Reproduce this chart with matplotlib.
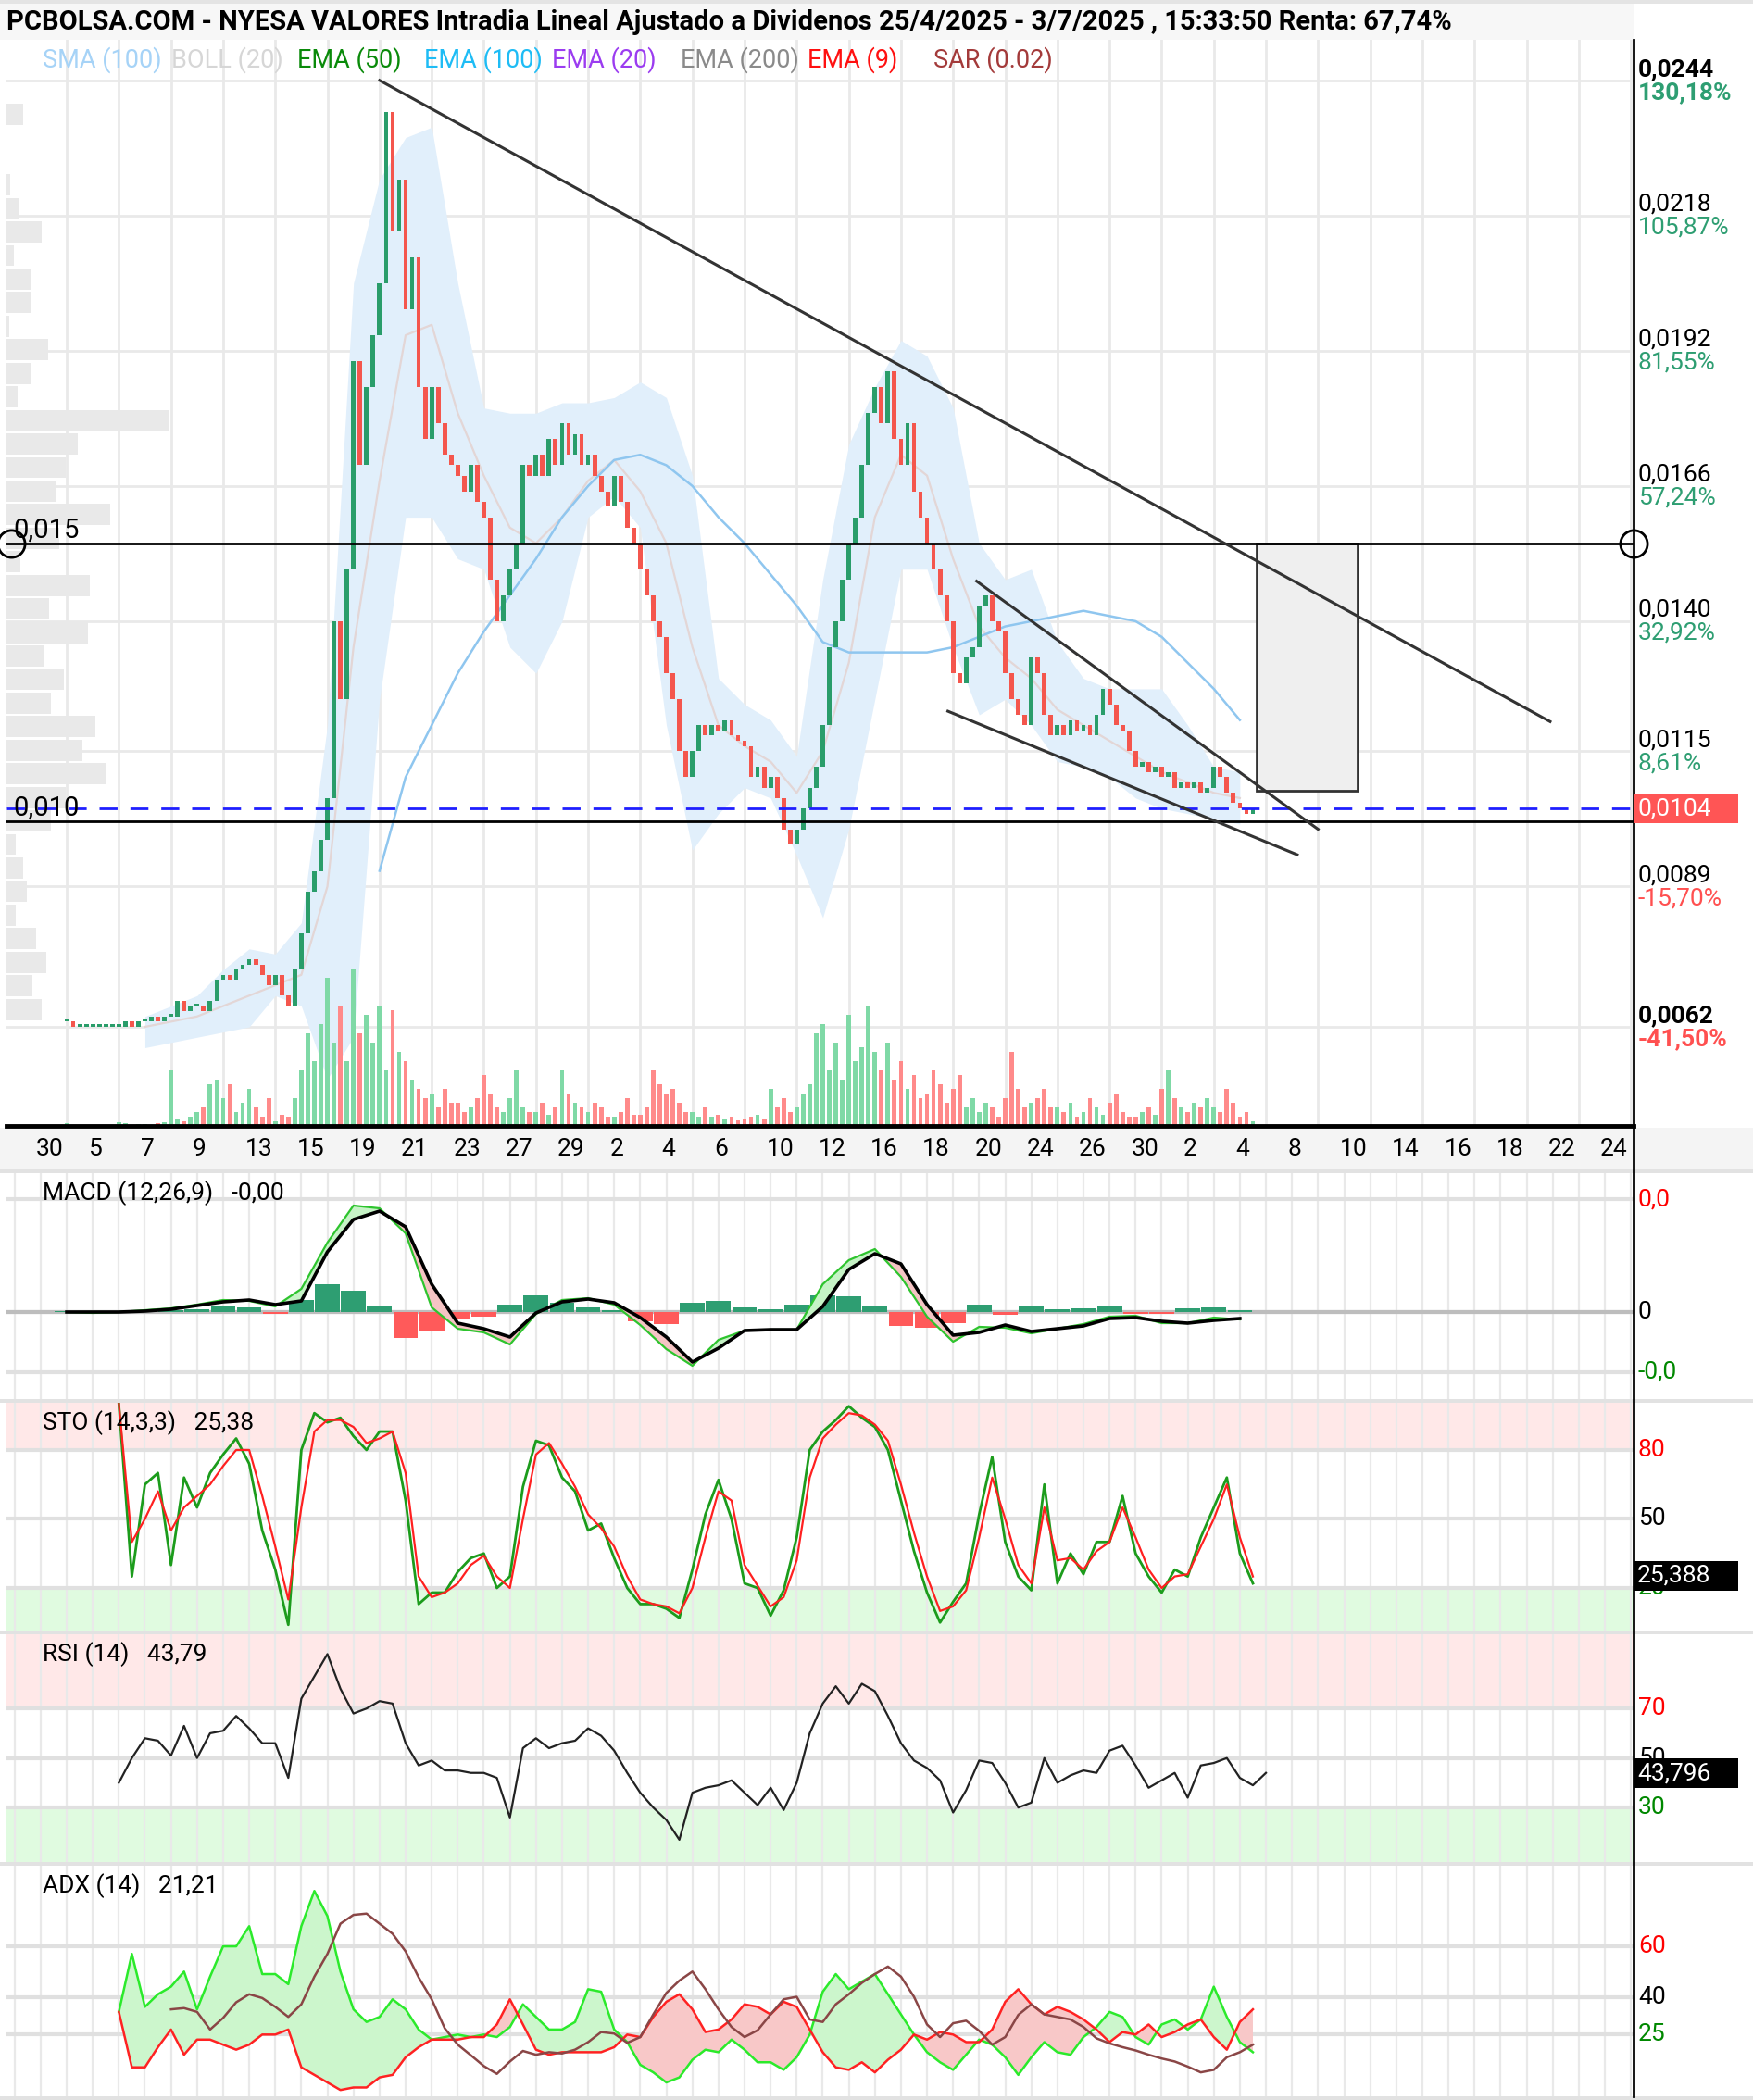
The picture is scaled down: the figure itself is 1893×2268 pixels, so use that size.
import matplotlib
matplotlib.use("Agg")
import matplotlib.pyplot as plt
import matplotlib.transforms as mtransforms
from matplotlib.patches import Rectangle
from matplotlib.lines import Line2D
import numpy as np

# ---------------- data ----------------
title = ("PCBOLSA.COM - NYESA VALORES Intradia Lineal Ajustado a Dividenos "
         "25/4/2025 - 3/7/2025 , 15:33:50 Renta: 67,74%")

legend_names = ["SMA (100)", "BOLL (20)", "EMA (50)", "EMA (100)", "EMA (20)",
                "EMA (200)", "EMA (9)", "SAR (0.02)"]
legend_colors = ["#a6d3f7", "#d6d6d6", "#0a8a0a", "#1ebcf5", "#9b3cf0",
                 "#8a8a8a", "#ff1010", "#a33a3a"]

date_labels = ["30", "5", "7", "9", "13", "15", "19", "21", "23", "27",
               "29", "2", "4", "6", "10", "12", "16", "18", "20", "24",
               "26", "30", "2", "4", "8", "10", "14", "16", "18", "22", "24"]

price_ticks = [0.0244, 0.0218, 0.0192, 0.0166, 0.0140, 0.0115, 0.0089, 0.0062]
price_labels = ["0,0244", "0,0218", "0,0192", "0,0166", "0,0140", "0,0115", "0,0089", "0,0062"]
pct_labels = ["130,18%", "105,87%", "81,55%", "57,24%", "32,92%", "8,61%", "-15,70%", "-41,50%"]

# intraday closes, 4 per trading day (day 0 = 30/4)
closes = [
    0.0063, 0.0062, 0.0062, 0.0062,  0.0062, 0.0062, 0.0062, 0.0062,
    0.0062, 0.0063, 0.0062, 0.0063,  0.0063, 0.0064, 0.0063, 0.0064,
    0.0064, 0.0067, 0.0065, 0.0066,  0.0066, 0.0065, 0.0067, 0.0071,
    0.0072, 0.0071, 0.0073, 0.0074,  0.0075, 0.0074, 0.0072, 0.0070,
    0.0072, 0.0068, 0.0066, 0.0073,  0.0080, 0.0088, 0.0092, 0.0098,
    0.0106, 0.0140, 0.0125, 0.0150,  0.0190, 0.0170, 0.0185, 0.0195,
    0.0205, 0.0238, 0.0215, 0.0225,  0.0200, 0.0210, 0.0185, 0.0175,
    0.0185, 0.0178, 0.0172, 0.0170,  0.0168, 0.0165, 0.0170, 0.0163,
    0.0160, 0.0148, 0.0140, 0.0145,  0.0150, 0.0155, 0.0170, 0.0168,
    0.0172, 0.0168, 0.0175, 0.0170,  0.0178, 0.0172, 0.0176, 0.0170,
    0.0172, 0.0168, 0.0165, 0.0162,  0.0168, 0.0163, 0.0158, 0.0155,
    0.0150, 0.0145, 0.0140, 0.0137,  0.0130, 0.0125, 0.0115, 0.0110,
    0.0115, 0.0120, 0.0118, 0.0120,  0.0119, 0.0121, 0.0118, 0.0117,
    0.0116, 0.0110, 0.0112, 0.0108,  0.0110, 0.0106, 0.0100, 0.0097,
    0.0100, 0.0104, 0.0108, 0.0112,  0.0120, 0.0135, 0.0140, 0.0148,
    0.0155, 0.0160, 0.0170, 0.0180,  0.0185, 0.0178, 0.0188, 0.0175,
    0.0170, 0.0178, 0.0165, 0.0160,  0.0155, 0.0150, 0.0145, 0.0140,
    0.0130, 0.0128, 0.0133, 0.0135,  0.0143, 0.0145, 0.0140, 0.0138,
    0.0130, 0.0125, 0.0122, 0.0120,  0.0133, 0.0130, 0.0122, 0.0118,
    0.0120, 0.0118, 0.0121, 0.0119,  0.0120, 0.0118, 0.0122, 0.0127,
    0.0124, 0.0120, 0.0119, 0.0115,  0.0112, 0.0113, 0.0111, 0.0112,
    0.0110, 0.0111, 0.0108, 0.0109,  0.0108, 0.0109, 0.0107, 0.0108,
    0.0112, 0.0110, 0.0107, 0.0105,  0.0104, 0.0103, 0.0104,
]

volumes = [
    3, 1, 1, 1,  1, 1, 1, 1,  4, 3, 1, 2,  2, 1, 3, 4,  60, 8, 5, 10,
    15, 20, 45, 50,  30, 45, 15, 25,  40, 20, 10, 30,  5, 12, 10, 30,
    60, 100, 70, 110,  160, 90, 130, 70,  170, 100, 120, 90,  130, 60, 125, 80,
    70, 50, 40, 30,  35, 20, 40, 25,  25, 15, 20, 30,  55, 35, 20, 15,
    30, 60, 20, 15,  15, 25, 12, 20,  60, 35, 25, 20,  15, 25, 20, 10,
    10, 15, 30, 12,  12, 20, 60, 45,  35, 40, 25, 15,  15, 10, 20, 10,
    12, 8, 10, 6,  8, 10, 12, 8,  40, 20, 30, 15,  20, 35, 45, 100,
    110, 60, 90, 50,  120, 70, 85, 130,  80, 60, 90, 50,  70, 40, 55, 30,
    35, 60, 45, 25,  40, 55, 20, 30,  15, 25, 20, 10,  30, 80, 40, 20,
    25, 30, 40, 20,  20, 15, 25, 10,  15, 30, 20, 12,  25, 35, 15, 10,
    10, 15, 20, 12,  40, 60, 30, 20,  15, 25, 20, 30,  20, 15, 40, 25,
    10, 15, 5,
]

# volume by price (left profile), top bin first
profile = [18, 0, 0, 4, 13, 38, 8, 27, 27, 3, 45, 26, 12, 175, 77, 64, 53, 112,
           57, 15, 90, 46, 88, 40, 62, 48, 96, 82, 107, 64, 48, 10, 18, 22, 10,
           32, 43, 28, 38]

# Bollinger (20) from day 3 and SMA (100) from day 12, one value per day
boll_upper = [0.0064, 0.0066, 0.0068, 0.0073, 0.0077, 0.0076, 0.0082, 0.0120, 0.0205, 0.0225,
              0.0233, 0.0235,
              0.0205, 0.0181, 0.0180, 0.0180, 0.0182, 0.0182, 0.0183, 0.0186, 0.0183, 0.0168,
              0.0129, 0.0124, 0.0121, 0.0114, 0.0148, 0.0174, 0.0185, 0.0194, 0.0191, 0.0181,
              0.0155, 0.0148, 0.0150, 0.0136, 0.0129, 0.0127, 0.0127, 0.0127, 0.0120, 0.0112, 0.0111]
boll_lower = [0.0058, 0.0059, 0.0060, 0.0061, 0.0062, 0.0068, 0.0066, 0.0052, 0.0060, 0.0125,
              0.0160, 0.0160,
              0.0152, 0.0150, 0.0135, 0.0130, 0.0140, 0.0160, 0.0164, 0.0158, 0.0120, 0.0096,
              0.0103, 0.0108, 0.0106, 0.0095, 0.0083, 0.0100, 0.0125, 0.0150, 0.0150, 0.0135,
              0.0122, 0.0125, 0.0120, 0.0113, 0.0112, 0.0110, 0.0106, 0.0104, 0.0103, 0.0102, 0.0101]
boll_mid = [0.0062, 0.0063, 0.0064, 0.0066, 0.0068, 0.0070, 0.0072, 0.0089, 0.0135, 0.0167,
            0.0195, 0.0197,
            0.0180, 0.0168, 0.0158, 0.0155, 0.0160, 0.0167, 0.0171, 0.0165, 0.0155, 0.0135,
            0.0120, 0.0116, 0.0113, 0.0107, 0.0115, 0.0132, 0.0160, 0.0172, 0.0168, 0.0152,
            0.0139, 0.0133, 0.0129, 0.0123, 0.0120, 0.0117, 0.0114, 0.0111, 0.0109, 0.0107, 0.0106]
sma100 = [0.0092, 0.0110, 0.0120, 0.0130, 0.0138, 0.0145, 0.0152, 0.0160, 0.0166, 0.0171,
          0.0172, 0.0170, 0.0166, 0.0160, 0.0155, 0.0149, 0.0143, 0.0136, 0.0134, 0.0134,
          0.0134, 0.0134, 0.0135, 0.0137, 0.0139, 0.0140, 0.0141, 0.0142, 0.0141, 0.0140,
          0.0137, 0.0132, 0.0127, 0.0121]

# drawn objects: (day, price)
trend_main = [(12.0, 0.0244), (56.9, 0.01207)]
wedge_top = [(34.9, 0.01477), (48.0, 0.0100)]
wedge_bottom = [(33.8, 0.01227), (47.2, 0.00951)]
level_high = 0.01549
level_low = 0.01015
last_price = 0.0104
target_box = (45.65, 49.5, 0.01074, 0.01549)

# MACD (x 1e-5), one per day
macd_black = [0, 0, 0, 1, 3, 7, 11, 13, 8, 12,
              65, 100, 109, 92, 30, -12, -18, -27, -1, 11,
              14, 10, -6, -27, -54, -39, -20, -19, -19, 6,
              46, 63, 52, 8, -25, -22, -14, -21, -18, -15,
              -7, -6, -10, -12, -9, -7]
macd_green = [0, -1, 0, 2, 4, 8, 13, 12, 6, 25,
              75, 115, 112, 85, 5, -18, -22, -35, -2, 13,
              15, 8, -14, -40, -58, -30, -20, -19, -19, 30,
              56, 68, 38, -5, -32, -16, -17, -23, -18, -13,
              -5, -4, -12, -12, -6, -8]
macd_hist = [1, 1, 1, 2, 2, 3, 6, 5, -2, 13,
             30, 23, 7, -28, -20, -7, -5, 8, 18, 10,
             5, 2, -10, -13, 10, 12, 5, 3, 8, 18,
             17, 7, -15, -17, -12, 8, -3, 7, 3, 4,
             6, -2, -2, 4, 5, 2]

# oscillators, two values per day starting at day 2
sto_k = [100, 25, 65, 70, 30, 68, 55, 70, 78, 85,
         74, 45, 28, 4, 80, 96, 92, 94, 86, 80,
         88, 88, 58, 13, 18, 18, 27, 33, 35, 20,
         25, 64, 84, 82, 68, 62, 45, 48, 33, 20,
         13, 13, 11, 7, 28, 52, 67, 50, 22, 20,
         8, 19, 42, 80, 88, 93, 99, 94, 90, 80,
         58, 36, 18, 5, 14, 22, 52, 77, 40, 25,
         19, 65, 22, 35, 26, 40, 40, 60, 35, 25,
         18, 28, 25, 42, 55, 68, 35, 22]
sto_d = [100, 40, 50, 62, 45, 55, 60, 65, 73, 80,
         80, 60, 38, 15, 55, 88, 93, 93, 90, 83,
         85, 88, 70, 25, 16, 18, 22, 30, 34, 25,
         20, 50, 78, 83, 74, 64, 52, 46, 38, 25,
         15, 13, 12, 9, 20, 42, 62, 58, 30, 21,
         12, 16, 32, 68, 85, 91, 96, 95, 91, 84,
         65, 44, 25, 10, 12, 19, 42, 68, 50, 30,
         22, 55, 32, 33, 28, 36, 40, 55, 42, 28,
         20, 25, 26, 38, 50, 65, 42, 25]
rsi = [40, 50, 58, 57, 51, 63, 50, 60, 61, 67,
       62, 56, 56, 42, 74, 83, 92, 78, 68, 70,
       73, 72, 56, 47, 49, 45, 45, 44, 44, 42,
       26, 54, 58, 54, 56, 57, 62, 59, 53, 44,
       36, 30, 25, 17, 36, 38, 39, 41, 36, 31,
       38, 29, 40, 60, 72, 79, 72, 80, 77, 67,
       56, 49, 46, 41, 28, 37, 49, 48, 40, 30,
       32, 50, 40, 43, 45, 44, 53, 55, 47, 38,
       41, 44, 34, 47, 48, 50, 42, 39, 44]
di_plus = [34, 57, 36, 41, 44, 50, 35, 48, 60, 60,
           68, 49, 49, 45, 68, 82, 72, 50, 35, 30,
           32, 39, 35, 27, 23, 24, 25, 24, 25, 24,
           28, 37, 32, 27, 27, 30, 43, 42, 27, 22,
           13, 10, 6, 8, 15, 19, 18, 23, 19, 14,
           14, 11, 16, 25, 42, 49, 43, 46, 49, 41,
           33, 25, 18, 14, 11, 17, 23, 21, 16, 9,
           16, 22, 18, 17, 24, 28, 34, 32, 24, 21,
           29, 31, 27, 31, 44, 32, 22, 18]
di_minus = [34, 12, 12, 20, 27, 17, 23, 23, 21, 19,
            21, 25, 25, 27, 12, 9, 6, 3, 4, 4,
            8, 9, 16, 20, 23, 23, 23, 24, 24, 29,
            39, 29, 19, 17, 18, 18, 18, 18, 20, 25,
            24, 32, 38, 41, 35, 26, 27, 31, 37, 36,
            33, 38, 36, 27, 18, 12, 11, 14, 10, 15,
            19, 25, 23, 26, 25, 22, 22, 27, 38, 43,
            37, 33, 36, 34, 31, 27, 22, 26, 25, 29,
            24, 26, 29, 31, 24, 19, 30, 35]
# ADX line, two per day starting at day 4
adx = [35, 35.5, 34, 27, 31.6, 37.8, 41, 39.5, 36, 32,
       37, 48, 57, 69, 72.5, 73, 69, 65, 58, 47.7,
       39, 27.5, 21, 16.8, 12.5, 9.4, 14.3, 18.5, 17, 18,
       17.5, 19, 22, 26, 25.4, 21.7, 24, 33, 41.5, 46.4,
       50, 43, 35, 28, 24, 26.7, 33, 39, 40, 31,
       30, 37, 41, 45.5, 49, 52, 48, 40, 29, 24,
       29.5, 30.5, 26.5, 21, 24, 32.8, 37, 33, 32, 31,
       28, 23.5, 21.5, 20, 18.7, 17, 15.5, 14.3, 12.3, 10,
       11, 16, 18, 21]

# ---------------- layout ----------------
W, H = 1893, 2268
plt.rcParams['font.family'] = ['Roboto', 'DejaVu Sans']
FS = 19

XMIN, XMAX = -2.31, 60.1
LEFT, RIGHT = 7, 1764
GRID = "#e9e9e9"

fig = plt.figure(figsize=(W / 100, H / 100), dpi=100)


def panel(top, bottom):
    a = fig.add_axes([LEFT / W, 1 - bottom / H, (RIGHT - LEFT) / W, (bottom - top) / H])
    a.set_xlim(XMIN, XMAX)
    a.set_xticks([])
    a.set_yticks([])
    for s in a.spines.values():
        s.set_visible(False)
    return a


def band(y0, y1, color, x0=0, x1=W):
    fig.add_artist(Rectangle((x0 / W, 1 - y1 / H), (x1 - x0) / W, (y1 - y0) / H,
                             transform=fig.transFigure, fc=color, ec="none", zorder=-1))


def ypix(top, bottom, lim, v):
    return top + (lim[1] - v) / (lim[1] - lim[0]) * (bottom - top)


def value_box(yc, txt, fc, tc="white", h=32):
    fig.add_artist(Rectangle((RIGHT / W, 1 - (yc + h / 2) / H), 113 / W, h / H,
                             transform=fig.transFigure, fc=fc, ec="none", zorder=5))
    fig.text((RIGHT + 4) / W, 1 - yc / H, txt, color=tc, va="center", ha="left",
             fontsize=FS, zorder=6)


# background strips
band(0, 4, "#e4e4e4")
band(4, 43, "#f7f7f7", 0, RIGHT)
band(1218, 1262, "#f4f4f4")
for y0, y1 in [(1262, 1267), (1511, 1515), (1761, 1765), (2011, 2015), (2264, 2268)]:
    band(y0, y1, "#e2e2e2")

fig.text(7 / W, 1 - 24 / H, title, fontsize=21, fontweight="bold", va="center", ha="left")

legend_x = [46, 185, 321, 458, 596, 735, 872, 1008]
for name, col, lx in zip(legend_names, legend_colors, legend_x):
    fig.text(lx / W, 1 - 65 / H, name, color=col, fontsize=FS + 0.5, va="center", ha="left", zorder=6)

# ---------------- main price panel ----------------
MAIN_TOP, MAIN_BOT = 43, 1216
PLIM = (0.004295, 0.02518)
ax = panel(MAIN_TOP, MAIN_BOT)
ax.set_ylim(*PLIM)
for d in range(0, 61, 2):
    ax.axvline(d, color=GRID, lw=2, zorder=0)
for p in price_ticks:
    ax.axhline(p, color=GRID, lw=2, zorder=0)

# volume profile (left)
prof_top, prof_step = 0.02375, 0.000453
tr_prof = mtransforms.blended_transform_factory(ax.transAxes, ax.transData)
for i, w in enumerate(profile):
    if w > 0:
        c = prof_top - i * prof_step
        ax.add_patch(Rectangle((0, c - prof_step * 0.45), w / (RIGHT - LEFT), prof_step * 0.9,
                               transform=tr_prof, fc="#e9e9e9", ec="none", zorder=1))

# Bollinger + SMA
bx = np.arange(len(boll_upper)) + 3
ax.fill_between(bx, boll_lower, boll_upper, color="#e1effb", lw=0, zorder=1.5)
ax.plot(bx, boll_mid, color="#e3d6d6", lw=1.6, zorder=2)
ax.plot(np.arange(len(sma100)) + 12, sma100, color="#8fc6ef", lw=1.8, zorder=2.5)

# candles + volume
c = np.array(closes)
o = np.concatenate([[c[0]], c[:-1]])
cx = np.arange(len(c)) * 0.25
up = c >= o
tr_vol = ax.get_xaxis_transform()
for xi, oi, ci, vi, u in zip(cx, o, c, volumes, up):
    ax.add_patch(Rectangle((xi - 0.085, 0), 0.17, vi / (MAIN_BOT - MAIN_TOP), transform=tr_vol,
                           fc="#7fd9a6" if u else "#ff8a8a", ec="none", zorder=2))
    lo, hi = min(oi, ci), max(oi, ci)
    ax.add_patch(Rectangle((xi - 0.085, lo), 0.17, max(hi - lo, 0.00005),
                           fc="#2a9d6a" if u else "#f4564d", ec="none", zorder=3))

# levels and drawings
bx0, bx1, by0, by1 = target_box
ax.add_patch(Rectangle((bx0, by0), bx1 - bx0, by1 - by0, fc="#efefef", ec="#333333", lw=2, zorder=3.5))
ax.axhline(level_high, color="black", lw=2, zorder=4)
ax.axhline(level_low, color="black", lw=2, zorder=4)
ax.axhline(last_price, color="#1f1fff", lw=2, dashes=(7, 5), zorder=4)
ax.plot([XMIN + 0.16, XMAX], [level_high, level_high], "o", ms=21, mfc="none", mec="black",
        mew=2, clip_on=False, zorder=6)
for seg in (trend_main, wedge_top, wedge_bottom):
    ax.plot([seg[0][0], seg[1][0]], [seg[0][1], seg[1][1]], color="#333333", lw=2.2, zorder=4)
ax.annotate("0,015", xy=(0, level_high), xycoords=("axes fraction", "data"), xytext=(7, 1),
            textcoords="offset pixels", fontsize=FS + 2, va="bottom", ha="left", zorder=6)
ax.annotate("0,010", xy=(0, level_low), xycoords=("axes fraction", "data"), xytext=(7, 1),
            textcoords="offset pixels", fontsize=FS + 2, va="bottom", ha="left", zorder=6)

# price labels on the right
for i, (p, lab, pct) in enumerate(zip(price_ticks, price_labels, pct_labels)):
    bold = "bold" if i in (0, len(price_ticks) - 1) else "normal"
    pcol = "#ff5050" if pct.startswith("-") else "#2e9e72"
    ax.annotate(lab, xy=(1, p), xycoords=("axes fraction", "data"), xytext=(5, 12),
                textcoords="offset pixels", va="center", ha="left", fontsize=FS,
                fontweight=bold, annotation_clip=False)
    ax.annotate(pct, xy=(1, p), xycoords=("axes fraction", "data"), xytext=(5, -13),
                textcoords="offset pixels", va="center", ha="left", fontsize=FS,
                fontweight=bold, color=pcol, annotation_clip=False)
value_box(ypix(MAIN_TOP, MAIN_BOT, PLIM, last_price), "0,0104", "#ff5555")

# date labels
tr_date = mtransforms.blended_transform_factory(ax.transData, fig.transFigure)
for k, lab in enumerate(date_labels):
    ax.text(2 * k - 1.17, 1 - 1241 / H, lab, transform=tr_date, fontsize=FS,
            ha="left", va="center")

fig.add_artist(Line2D([LEFT / W, RIGHT / W], [1 - MAIN_BOT / H] * 2, color="black", lw=3.5,
                      transform=fig.transFigure, zorder=4))


# ---------------- indicator panels ----------------
def osc_panel(top, bottom, lim, ticks, labels, colors, name):
    a = panel(top, bottom)
    a.set_ylim(*lim)
    for d in range(-2, 61):
        a.axvline(d, color=GRID, lw=1.6, zorder=0.5)
    for t in ticks:
        a.axhline(t, color="#e0e0e0", lw=3, zorder=0.6)
    for t, lab, col in zip(ticks, labels, colors):
        a.annotate(lab, xy=(1, t), xycoords=("axes fraction", "data"), xytext=(5, 0),
                   textcoords="offset pixels", va="center", ha="left", fontsize=FS,
                   color=col, annotation_clip=False)
    a.annotate(name, xy=(0, 1), xycoords="axes fraction", xytext=(39, -22),
               textcoords="offset pixels", va="center", ha="left", fontsize=FS, zorder=8)
    return a


# MACD
MLIM = (-94, 150)
am = osc_panel(1267, 1511, MLIM, [122, 0, -65], ["0,0", "0", "-0,0"],
               ["#ff0000", "black", "#008800"], "MACD (12,26,9)   -0,00")
mx = np.arange(len(macd_black))
mb = np.array(macd_black, float)
mg = np.array(macd_green, float)
mh = np.array(macd_hist, float)
am.axhline(0, color="#bdbdbd", lw=3, zorder=0.7)
am.bar(mx, mh, width=0.95, color=np.where(mh >= 0, "#2e9e72", "#ff5a5a"), zorder=1)
am.fill_between(mx, mb, mg, where=mg >= mb, interpolate=True, color="#c6f3c6", lw=0, zorder=1.5)
am.fill_between(mx, mb, mg, where=mg < mb, interpolate=True, color="#f5c4c4", lw=0, zorder=1.5)
am.plot(mx, mg, color="#2ec42e", lw=1.6, zorder=2)
am.plot(mx, mb, color="black", lw=2.6, zorder=2.5)

# STO
SLIM = (1.5, 100.5)
ast = osc_panel(1515, 1761, SLIM, [80, 50, 20], ["80", "50", "20"],
                ["#ff0000", "black", "#008800"], "STO (14,3,3)   25,38")
ast.axhspan(80, SLIM[1], color="#ffe8e8", zorder=0)
ast.axhspan(SLIM[0], 20, color="#e0fbe0", zorder=0)
sx = 2 + np.arange(len(sto_k)) * 0.5
ast.plot(sx, sto_k, color="#1c9c1c", lw=2, zorder=2)
ast.plot(sx, sto_d, color="#ff2020", lw=1.6, zorder=2.5)
value_box(ypix(1515, 1761, SLIM, 25.388), "25,388", "black")

# RSI
RLIM = (8, 100)
ar = osc_panel(1765, 2011, RLIM, [70, 50, 30], ["70", "50", "30"],
               ["#ff0000", "black", "#008800"], "RSI (14)   43,79")
ar.axhspan(70, RLIM[1], color="#ffe8e8", zorder=0)
ar.axhspan(RLIM[0], 30, color="#e0fbe0", zorder=0)
ar.plot(2 + np.arange(len(rsi)) * 0.5, rsi, color="#222222", lw=1.6, zorder=2)
value_box(ypix(1765, 2011, RLIM, 43.796), "43,796", "black")

# ADX
ALIM = (0.5, 92)
aa = osc_panel(2015, 2264, ALIM, [60, 40, 25], ["60", "40", "25"],
               ["#ff0000", "black", "#008800"], "ADX (14)   21,21")
dx = 2 + np.arange(len(di_plus)) * 0.5
dp = np.array(di_plus, float)
dm = np.array(di_minus, float)
aa.fill_between(dx, dp, dm, where=dp >= dm, interpolate=True, color="#ccf6cc", lw=0, zorder=1)
aa.fill_between(dx, dp, dm, where=dp < dm, interpolate=True, color="#f8c8c8", lw=0, zorder=1)
aa.plot(dx, dp, color="#2bea2b", lw=1.8, zorder=2)
aa.plot(dx, dm, color="#ff2222", lw=1.8, zorder=2)
aa.plot(4 + np.arange(len(adx)) * 0.5, adx, color="#8a4646", lw=1.8, zorder=2.5)

# right axis line through all panels
fig.add_artist(Line2D([RIGHT / W] * 2, [1 - MAIN_TOP / H, 1 - 2264 / H], color="black", lw=2,
                      transform=fig.transFigure, zorder=4))

fig.savefig("out.png", dpi=100)
